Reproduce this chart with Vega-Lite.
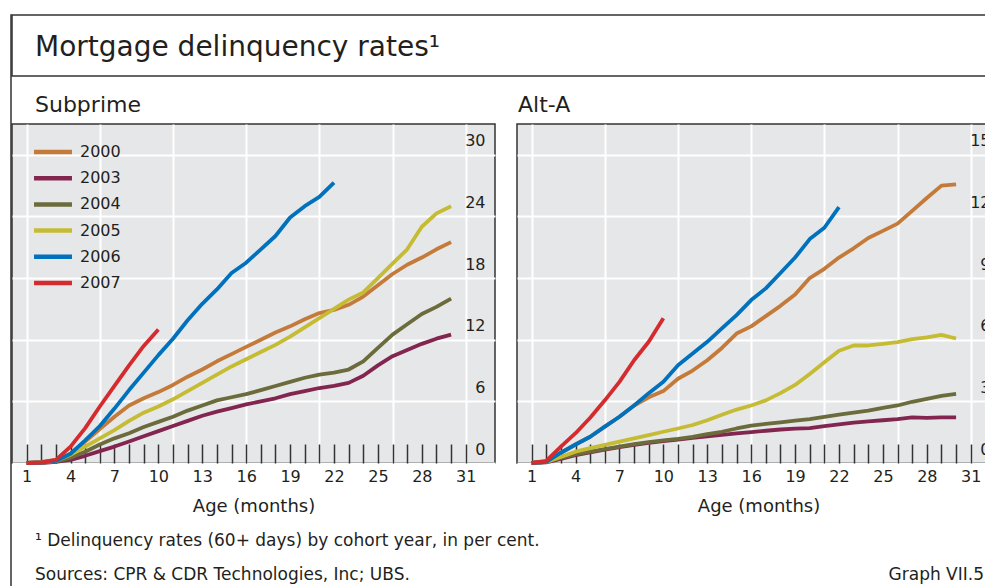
{
  "$schema": "https://vega.github.io/schema/vega-lite/v6.json",
  "padding": {"left": 10, "top": 14, "right": 0, "bottom": 0},
  "background": "white",
  "bounds": "flush",
  "spacing": 0,
  "datasets": {
    "subprime": [
      {"cohort":"2000","month":1,"rate":0},{"cohort":"2000","month":2,"rate":0.1},{"cohort":"2000","month":3,"rate":0.3},{"cohort":"2000","month":4,"rate":0.9},{"cohort":"2000","month":5,"rate":2.1},{"cohort":"2000","month":6,"rate":3.3},{"cohort":"2000","month":7,"rate":4.5},{"cohort":"2000","month":8,"rate":5.6},{"cohort":"2000","month":9,"rate":6.3},{"cohort":"2000","month":10,"rate":6.9},{"cohort":"2000","month":11,"rate":7.6},{"cohort":"2000","month":12,"rate":8.4},{"cohort":"2000","month":13,"rate":9.1},{"cohort":"2000","month":14,"rate":9.9},{"cohort":"2000","month":15,"rate":10.6},{"cohort":"2000","month":16,"rate":11.3},{"cohort":"2000","month":17,"rate":12.0},{"cohort":"2000","month":18,"rate":12.7},{"cohort":"2000","month":19,"rate":13.3},{"cohort":"2000","month":20,"rate":14.0},{"cohort":"2000","month":21,"rate":14.6},{"cohort":"2000","month":22,"rate":14.9},{"cohort":"2000","month":23,"rate":15.4},{"cohort":"2000","month":24,"rate":16.2},{"cohort":"2000","month":25,"rate":17.3},{"cohort":"2000","month":26,"rate":18.4},{"cohort":"2000","month":27,"rate":19.3},{"cohort":"2000","month":28,"rate":20.0},{"cohort":"2000","month":29,"rate":20.8},{"cohort":"2000","month":30,"rate":21.5},
      {"cohort":"2003","month":1,"rate":0},{"cohort":"2003","month":2,"rate":0},{"cohort":"2003","month":3,"rate":0.1},{"cohort":"2003","month":4,"rate":0.3},{"cohort":"2003","month":5,"rate":0.7},{"cohort":"2003","month":6,"rate":1.15},{"cohort":"2003","month":7,"rate":1.6},{"cohort":"2003","month":8,"rate":2.1},{"cohort":"2003","month":9,"rate":2.6},{"cohort":"2003","month":10,"rate":3.1},{"cohort":"2003","month":11,"rate":3.6},{"cohort":"2003","month":12,"rate":4.1},{"cohort":"2003","month":13,"rate":4.6},{"cohort":"2003","month":14,"rate":5.0},{"cohort":"2003","month":15,"rate":5.35},{"cohort":"2003","month":16,"rate":5.7},{"cohort":"2003","month":17,"rate":6.0},{"cohort":"2003","month":18,"rate":6.3},{"cohort":"2003","month":19,"rate":6.7},{"cohort":"2003","month":20,"rate":7.0},{"cohort":"2003","month":21,"rate":7.3},{"cohort":"2003","month":22,"rate":7.5},{"cohort":"2003","month":23,"rate":7.8},{"cohort":"2003","month":24,"rate":8.5},{"cohort":"2003","month":25,"rate":9.5},{"cohort":"2003","month":26,"rate":10.4},{"cohort":"2003","month":27,"rate":11.0},{"cohort":"2003","month":28,"rate":11.6},{"cohort":"2003","month":29,"rate":12.1},{"cohort":"2003","month":30,"rate":12.5},
      {"cohort":"2004","month":1,"rate":0},{"cohort":"2004","month":2,"rate":0.05},{"cohort":"2004","month":3,"rate":0.15},{"cohort":"2004","month":4,"rate":0.5},{"cohort":"2004","month":5,"rate":1.1},{"cohort":"2004","month":6,"rate":1.8},{"cohort":"2004","month":7,"rate":2.4},{"cohort":"2004","month":8,"rate":2.9},{"cohort":"2004","month":9,"rate":3.5},{"cohort":"2004","month":10,"rate":4.0},{"cohort":"2004","month":11,"rate":4.5},{"cohort":"2004","month":12,"rate":5.1},{"cohort":"2004","month":13,"rate":5.6},{"cohort":"2004","month":14,"rate":6.1},{"cohort":"2004","month":15,"rate":6.4},{"cohort":"2004","month":16,"rate":6.7},{"cohort":"2004","month":17,"rate":7.1},{"cohort":"2004","month":18,"rate":7.5},{"cohort":"2004","month":19,"rate":7.9},{"cohort":"2004","month":20,"rate":8.3},{"cohort":"2004","month":21,"rate":8.6},{"cohort":"2004","month":22,"rate":8.8},{"cohort":"2004","month":23,"rate":9.1},{"cohort":"2004","month":24,"rate":9.9},{"cohort":"2004","month":25,"rate":11.2},{"cohort":"2004","month":26,"rate":12.5},{"cohort":"2004","month":27,"rate":13.5},{"cohort":"2004","month":28,"rate":14.5},{"cohort":"2004","month":29,"rate":15.2},{"cohort":"2004","month":30,"rate":16.0},
      {"cohort":"2005","month":1,"rate":0},{"cohort":"2005","month":2,"rate":0.05},{"cohort":"2005","month":3,"rate":0.2},{"cohort":"2005","month":4,"rate":0.8},{"cohort":"2005","month":5,"rate":1.6},{"cohort":"2005","month":6,"rate":2.4},{"cohort":"2005","month":7,"rate":3.2},{"cohort":"2005","month":8,"rate":4.1},{"cohort":"2005","month":9,"rate":4.9},{"cohort":"2005","month":10,"rate":5.5},{"cohort":"2005","month":11,"rate":6.2},{"cohort":"2005","month":12,"rate":7.0},{"cohort":"2005","month":13,"rate":7.8},{"cohort":"2005","month":14,"rate":8.6},{"cohort":"2005","month":15,"rate":9.4},{"cohort":"2005","month":16,"rate":10.1},{"cohort":"2005","month":17,"rate":10.8},{"cohort":"2005","month":18,"rate":11.5},{"cohort":"2005","month":19,"rate":12.3},{"cohort":"2005","month":20,"rate":13.2},{"cohort":"2005","month":21,"rate":14.1},{"cohort":"2005","month":22,"rate":15.0},{"cohort":"2005","month":23,"rate":15.9},{"cohort":"2005","month":24,"rate":16.6},{"cohort":"2005","month":25,"rate":18.0},{"cohort":"2005","month":26,"rate":19.4},{"cohort":"2005","month":27,"rate":20.8},{"cohort":"2005","month":28,"rate":23.0},{"cohort":"2005","month":29,"rate":24.3},{"cohort":"2005","month":30,"rate":25.0},
      {"cohort":"2006","month":1,"rate":0},{"cohort":"2006","month":2,"rate":0.05},{"cohort":"2006","month":3,"rate":0.2},{"cohort":"2006","month":4,"rate":0.9},{"cohort":"2006","month":5,"rate":2.2},{"cohort":"2006","month":6,"rate":3.6},{"cohort":"2006","month":7,"rate":5.3},{"cohort":"2006","month":8,"rate":7.1},{"cohort":"2006","month":9,"rate":8.8},{"cohort":"2006","month":10,"rate":10.5},{"cohort":"2006","month":11,"rate":12.1},{"cohort":"2006","month":12,"rate":13.9},{"cohort":"2006","month":13,"rate":15.5},{"cohort":"2006","month":14,"rate":16.9},{"cohort":"2006","month":15,"rate":18.5},{"cohort":"2006","month":16,"rate":19.5},{"cohort":"2006","month":17,"rate":20.8},{"cohort":"2006","month":18,"rate":22.1},{"cohort":"2006","month":19,"rate":23.9},{"cohort":"2006","month":20,"rate":25.0},{"cohort":"2006","month":21,"rate":25.9},{"cohort":"2006","month":22,"rate":27.3},
      {"cohort":"2007","month":1,"rate":0},{"cohort":"2007","month":2,"rate":0.05},{"cohort":"2007","month":3,"rate":0.3},{"cohort":"2007","month":4,"rate":1.6},{"cohort":"2007","month":5,"rate":3.4},{"cohort":"2007","month":6,"rate":5.5},{"cohort":"2007","month":7,"rate":7.5},{"cohort":"2007","month":8,"rate":9.5},{"cohort":"2007","month":9,"rate":11.4},{"cohort":"2007","month":10,"rate":13.0}
    ],
    "alta": [
      {"cohort":"2000","month":1,"rate":0},{"cohort":"2000","month":2,"rate":0.05},{"cohort":"2000","month":3,"rate":0.5},{"cohort":"2000","month":4,"rate":0.9},{"cohort":"2000","month":5,"rate":1.28},{"cohort":"2000","month":6,"rate":1.77},{"cohort":"2000","month":7,"rate":2.25},{"cohort":"2000","month":8,"rate":2.8},{"cohort":"2000","month":9,"rate":3.2},{"cohort":"2000","month":10,"rate":3.5},{"cohort":"2000","month":11,"rate":4.1},{"cohort":"2000","month":12,"rate":4.5},{"cohort":"2000","month":13,"rate":5.0},{"cohort":"2000","month":14,"rate":5.6},{"cohort":"2000","month":15,"rate":6.3},{"cohort":"2000","month":16,"rate":6.65},{"cohort":"2000","month":17,"rate":7.15},{"cohort":"2000","month":18,"rate":7.65},{"cohort":"2000","month":19,"rate":8.2},{"cohort":"2000","month":20,"rate":9.0},{"cohort":"2000","month":21,"rate":9.45},{"cohort":"2000","month":22,"rate":10.0},{"cohort":"2000","month":23,"rate":10.45},{"cohort":"2000","month":24,"rate":10.95},{"cohort":"2000","month":25,"rate":11.3},{"cohort":"2000","month":26,"rate":11.65},{"cohort":"2000","month":27,"rate":12.27},{"cohort":"2000","month":28,"rate":12.9},{"cohort":"2000","month":29,"rate":13.5},{"cohort":"2000","month":30,"rate":13.56},
      {"cohort":"2003","month":1,"rate":0},{"cohort":"2003","month":2,"rate":0.03},{"cohort":"2003","month":3,"rate":0.2},{"cohort":"2003","month":4,"rate":0.38},{"cohort":"2003","month":5,"rate":0.52},{"cohort":"2003","month":6,"rate":0.65},{"cohort":"2003","month":7,"rate":0.77},{"cohort":"2003","month":8,"rate":0.88},{"cohort":"2003","month":9,"rate":0.98},{"cohort":"2003","month":10,"rate":1.07},{"cohort":"2003","month":11,"rate":1.14},{"cohort":"2003","month":12,"rate":1.22},{"cohort":"2003","month":13,"rate":1.3},{"cohort":"2003","month":14,"rate":1.37},{"cohort":"2003","month":15,"rate":1.44},{"cohort":"2003","month":16,"rate":1.5},{"cohort":"2003","month":17,"rate":1.57},{"cohort":"2003","month":18,"rate":1.63},{"cohort":"2003","month":19,"rate":1.67},{"cohort":"2003","month":20,"rate":1.7},{"cohort":"2003","month":21,"rate":1.8},{"cohort":"2003","month":22,"rate":1.88},{"cohort":"2003","month":23,"rate":1.96},{"cohort":"2003","month":24,"rate":2.03},{"cohort":"2003","month":25,"rate":2.08},{"cohort":"2003","month":26,"rate":2.14},{"cohort":"2003","month":27,"rate":2.22},{"cohort":"2003","month":28,"rate":2.2},{"cohort":"2003","month":29,"rate":2.22},{"cohort":"2003","month":30,"rate":2.22},
      {"cohort":"2004","month":1,"rate":0},{"cohort":"2004","month":2,"rate":0.05},{"cohort":"2004","month":3,"rate":0.25},{"cohort":"2004","month":4,"rate":0.42},{"cohort":"2004","month":5,"rate":0.55},{"cohort":"2004","month":6,"rate":0.68},{"cohort":"2004","month":7,"rate":0.8},{"cohort":"2004","month":8,"rate":0.92},{"cohort":"2004","month":9,"rate":1.02},{"cohort":"2004","month":10,"rate":1.1},{"cohort":"2004","month":11,"rate":1.17},{"cohort":"2004","month":12,"rate":1.27},{"cohort":"2004","month":13,"rate":1.4},{"cohort":"2004","month":14,"rate":1.52},{"cohort":"2004","month":15,"rate":1.68},{"cohort":"2004","month":16,"rate":1.82},{"cohort":"2004","month":17,"rate":1.9},{"cohort":"2004","month":18,"rate":1.98},{"cohort":"2004","month":19,"rate":2.06},{"cohort":"2004","month":20,"rate":2.14},{"cohort":"2004","month":21,"rate":2.25},{"cohort":"2004","month":22,"rate":2.35},{"cohort":"2004","month":23,"rate":2.45},{"cohort":"2004","month":24,"rate":2.55},{"cohort":"2004","month":25,"rate":2.68},{"cohort":"2004","month":26,"rate":2.8},{"cohort":"2004","month":27,"rate":2.98},{"cohort":"2004","month":28,"rate":3.12},{"cohort":"2004","month":29,"rate":3.27},{"cohort":"2004","month":30,"rate":3.36},
      {"cohort":"2005","month":1,"rate":0},{"cohort":"2005","month":2,"rate":0.05},{"cohort":"2005","month":3,"rate":0.3},{"cohort":"2005","month":4,"rate":0.55},{"cohort":"2005","month":5,"rate":0.72},{"cohort":"2005","month":6,"rate":0.88},{"cohort":"2005","month":7,"rate":1.04},{"cohort":"2005","month":8,"rate":1.2},{"cohort":"2005","month":9,"rate":1.36},{"cohort":"2005","month":10,"rate":1.52},{"cohort":"2005","month":11,"rate":1.68},{"cohort":"2005","month":12,"rate":1.85},{"cohort":"2005","month":13,"rate":2.08},{"cohort":"2005","month":14,"rate":2.35},{"cohort":"2005","month":15,"rate":2.6},{"cohort":"2005","month":16,"rate":2.8},{"cohort":"2005","month":17,"rate":3.05},{"cohort":"2005","month":18,"rate":3.4},{"cohort":"2005","month":19,"rate":3.8},{"cohort":"2005","month":20,"rate":4.33},{"cohort":"2005","month":21,"rate":4.9},{"cohort":"2005","month":22,"rate":5.46},{"cohort":"2005","month":23,"rate":5.72},{"cohort":"2005","month":24,"rate":5.72},{"cohort":"2005","month":25,"rate":5.8},{"cohort":"2005","month":26,"rate":5.88},{"cohort":"2005","month":27,"rate":6.03},{"cohort":"2005","month":28,"rate":6.12},{"cohort":"2005","month":29,"rate":6.24},{"cohort":"2005","month":30,"rate":6.06},
      {"cohort":"2006","month":1,"rate":0},{"cohort":"2006","month":2,"rate":0.05},{"cohort":"2006","month":3,"rate":0.5},{"cohort":"2006","month":4,"rate":0.9},{"cohort":"2006","month":5,"rate":1.28},{"cohort":"2006","month":6,"rate":1.77},{"cohort":"2006","month":7,"rate":2.25},{"cohort":"2006","month":8,"rate":2.8},{"cohort":"2006","month":9,"rate":3.4},{"cohort":"2006","month":10,"rate":3.95},{"cohort":"2006","month":11,"rate":4.76},{"cohort":"2006","month":12,"rate":5.33},{"cohort":"2006","month":13,"rate":5.9},{"cohort":"2006","month":14,"rate":6.55},{"cohort":"2006","month":15,"rate":7.2},{"cohort":"2006","month":16,"rate":7.93},{"cohort":"2006","month":17,"rate":8.5},{"cohort":"2006","month":18,"rate":9.25},{"cohort":"2006","month":19,"rate":10.0},{"cohort":"2006","month":20,"rate":10.9},{"cohort":"2006","month":21,"rate":11.45},{"cohort":"2006","month":22,"rate":12.45},
      {"cohort":"2007","month":1,"rate":0},{"cohort":"2007","month":2,"rate":0.1},{"cohort":"2007","month":3,"rate":0.8},{"cohort":"2007","month":4,"rate":1.45},{"cohort":"2007","month":5,"rate":2.2},{"cohort":"2007","month":6,"rate":3.05},{"cohort":"2007","month":7,"rate":3.95},{"cohort":"2007","month":8,"rate":5.0},{"cohort":"2007","month":9,"rate":5.9},{"cohort":"2007","month":10,"rate":7.05}
    ]
  },
  "hconcat": [
    {
      "width": 0.01,
      "height": 600,
      "view": {"stroke": "#333333", "strokeWidth": 1.5, "fill": null},
      "data": {"values": []},
      "mark": "point"
    },
    {
      "spacing": 16,
      "bounds": "full",
      "vconcat": [
        {
          "width": 985,
          "height": 61,
          "view": {"stroke": "#333333", "strokeWidth": 1.5, "fill": null},
          "data": {"values": []},
          "mark": "point",
          "title": {"text": "Mortgage delinquency rates¹", "orient": "top", "anchor": "start", "baseline": "alphabetic", "offset": -69, "dx": 23, "fontSize": 28}
        },
        {
          "spacing": 22,
          "bounds": "flush",
          "resolve": {"scale": {"color": "independent"}, "legend": {"color": "independent"}},
          "hconcat": [
            {
              "width": 483,
              "height": 339,
              "view": {"fill": "#e6e7e9", "stroke": "#333333", "strokeWidth": 1.5},
              "title": {"text": "Subprime", "orient": "top", "anchor": "start", "baseline": "alphabetic", "offset": -10, "dx": 23, "fontSize": 22},
              "data": {"name": "subprime"},
              "mark": {"type": "line", "strokeWidth": 3.8, "strokeJoin": "round"},
              "encoding": {
                "x": {"field": "month", "type": "quantitative", "scale": {"domain": [0, 33], "nice": false, "zero": false},
                  "axis": {"orient": "bottom", "values": [1,2,3,4,5,6,7,8,9,10,11,12,13,14,15,16,17,18,19,20,21,22,23,24,25,26,27,28,29,30,31],
                    "offset": -19, "tickSize": 19, "tickColor": "#333333", "tickWidth": 1.5, "domain": false,
                    "labelExpr": "(datum.value - 1) % 3 === 0 ? datum.label : ''", "labelPadding": 18, "labelBaseline": "alphabetic", "labelOverlap": false, "labelFlush": false,
                    "grid": true, "gridColor": "#ffffff", "gridWidth": 2, "gridOpacity": {"condition": {"test": "(datum.value - 1) % 5 === 0", "value": 1}, "value": 0},
                    "title": "Age (months)", "titleBaseline": "alphabetic", "titleY": 67}},
                "y": {"field": "rate", "type": "quantitative", "scale": {"domain": [0, 33], "nice": false},
                  "axis": {"orient": "right", "values": [0, 6, 12, 18, 24, 30], "ticks": false, "domain": false, "labelAlign": "right", "labelPadding": -10, "labelBaseline": "alphabetic", "labelOffset": -9,
                    "grid": true, "gridColor": "#ffffff", "gridWidth": 2, "title": null}},
                "color": {"field": "cohort", "type": "nominal",
                  "scale": {"domain": ["2000", "2003", "2004", "2005", "2006", "2007"], "range": ["#c47b3a", "#83264f", "#6b6b3b", "#c5bc34", "#0071bc", "#d52b2e"]},
                  "legend": {"orient": "none", "legendX": 32, "legendY": 19, "title": null, "padding": 0, "symbolType": "M-3,0H3", "symbolSize": 160, "symbolStrokeWidth": 4.5, "symbolOffset": 0, "labelOffset": 18, "rowPadding": 8.2, "labelFontSize": 16, "labelColor": "#231f20", "labelFont": "DejaVu Sans"}}
              }
            },
            {
              "width": 483,
              "height": 339,
              "view": {"fill": "#e6e7e9", "stroke": "#333333", "strokeWidth": 1.5},
              "title": {"text": "Alt-A", "orient": "top", "anchor": "start", "baseline": "alphabetic", "offset": -10, "dx": 1, "fontSize": 22},
              "data": {"name": "alta"},
              "mark": {"type": "line", "strokeWidth": 3.8, "strokeJoin": "round"},
              "encoding": {
                "x": {"field": "month", "type": "quantitative", "scale": {"domain": [0, 33], "nice": false, "zero": false},
                  "axis": {"orient": "bottom", "values": [1,2,3,4,5,6,7,8,9,10,11,12,13,14,15,16,17,18,19,20,21,22,23,24,25,26,27,28,29,30,31],
                    "offset": -19, "tickSize": 19, "tickColor": "#333333", "tickWidth": 1.5, "domain": false,
                    "labelExpr": "(datum.value - 1) % 3 === 0 ? datum.label : ''", "labelPadding": 18, "labelBaseline": "alphabetic", "labelOverlap": false, "labelFlush": false,
                    "grid": true, "gridColor": "#ffffff", "gridWidth": 2, "gridOpacity": {"condition": {"test": "(datum.value - 1) % 5 === 0", "value": 1}, "value": 0},
                    "title": "Age (months)", "titleBaseline": "alphabetic", "titleY": 67}},
                "y": {"field": "rate", "type": "quantitative", "scale": {"domain": [0, 16.5], "nice": false},
                  "axis": {"orient": "right", "values": [0, 3, 6, 9, 12, 15], "ticks": false, "domain": false, "labelAlign": "right", "labelPadding": -10, "labelBaseline": "alphabetic", "labelOffset": -9,
                    "grid": true, "gridColor": "#ffffff", "gridWidth": 2, "title": null}},
                "color": {"field": "cohort", "type": "nominal",
                  "scale": {"domain": ["2000", "2003", "2004", "2005", "2006", "2007"], "range": ["#c47b3a", "#83264f", "#6b6b3b", "#c5bc34", "#0071bc", "#d52b2e"]},
                  "legend": null}
              }
            }
          ]
        },
        {
          "spacing": 0,
          "bounds": "flush",
          "hconcat": [
            {
              "width": 500,
              "height": 1,
              "data": {"values": []},
              "mark": "point",
              "title": {"text": ["¹ Delinquency rates (60+ days) by cohort year, in per cent.", "Sources: CPR & CDR Technologies, Inc; UBS."], "orient": "bottom", "anchor": "start", "baseline": "alphabetic", "offset": 11, "lineHeight": 34, "dx": 23, "fontSize": 17}
            },
            {
              "width": 472,
              "height": 1,
              "data": {"values": []},
              "mark": "point",
              "title": {"text": "Graph VII.5", "orient": "bottom", "anchor": "end", "baseline": "alphabetic", "offset": 45, "fontSize": 17}
            }
          ]
        }
      ]
    }
  ],
  "config": {
    "font": "DejaVu Sans",
    "view": {"stroke": null},
    "title": {"font": "DejaVu Sans", "fontWeight": "normal", "color": "#231f20", "frame": "group"},
    "axis": {"labelFont": "DejaVu Sans", "labelFontSize": 16, "labelColor": "#231f20", "titleFont": "DejaVu Sans", "titleFontSize": 18, "titleFontWeight": "normal", "titleColor": "#231f20"},
    "legend": {"labelFont": "DejaVu Sans"}
  }
}
